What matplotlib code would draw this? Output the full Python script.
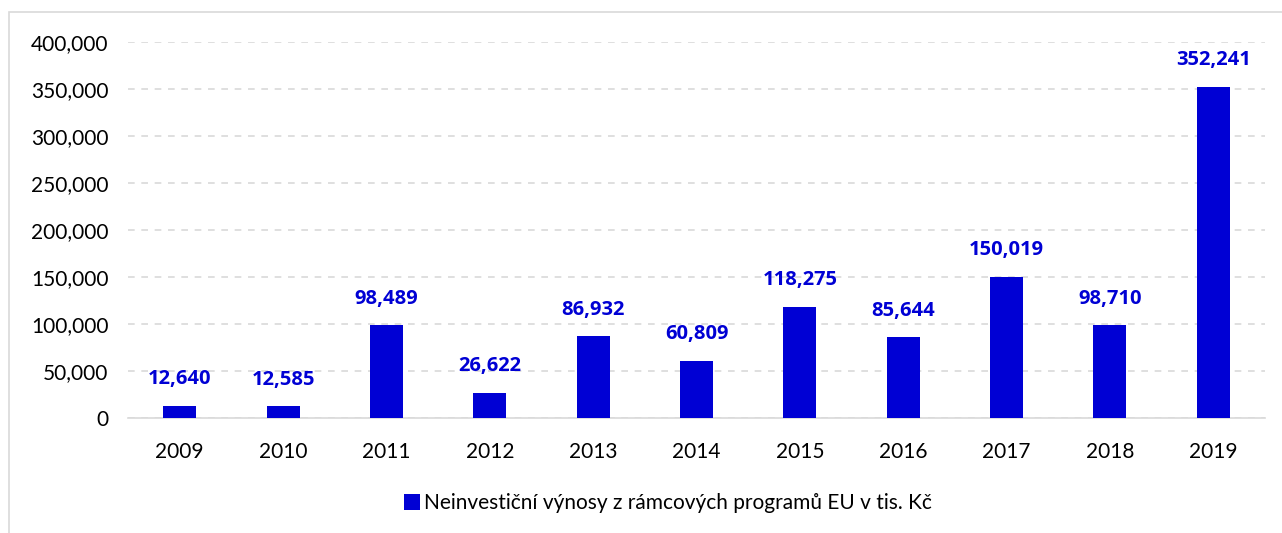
# Bar chart: non-investment income from EU framework programmes
import matplotlib
matplotlib.use("Agg")
import matplotlib.pyplot as plt
from matplotlib.patches import Rectangle
from matplotlib.ticker import FuncFormatter, MultipleLocator

plt.rcParams['font.family'] = ['Lato', 'DejaVu Sans']

# Data
years = ["2009", "2010", "2011", "2012", "2013", "2014", "2015", "2016", "2017", "2018", "2019"]
values = [12640, 12585, 98489, 26622, 86932, 60809, 118275, 85644, 150019, 98710, 352241]
series_name = "Neinvestiční výnosy z rámcových programů EU v tis. Kč"

bar_color = "#0000D4"

fig = plt.figure(figsize=(12.82, 5.33), dpi=100)
W, H = 1282, 533

# light frame around the chart area (cut at right/bottom like the original)
fig.patches.append(Rectangle((9 / W, -0.1), 1.0, 1.1 - 12 / H, transform=fig.transFigure,
                             fill=False, edgecolor="#D9D9D9", linewidth=1.2))

ax = fig.add_axes([128 / W, 1 - 418 / H, (1265 - 128) / W, (418 - 42) / H])

x = list(range(len(years)))
bars = ax.bar(x, values, width=0.32, color=bar_color, label=series_name, zorder=3)

# value labels above bars
for xi, v in zip(x, values):
    ax.annotate(f"{v:,}", (xi, v), xytext=(0, 12), textcoords="offset points",
                ha="center", va="bottom", fontsize=14.5, fontweight="bold", color=bar_color,
                family=["Open Sans", "DejaVu Sans"])

ax.set_xlim(-0.5, len(years) - 0.5)
ax.set_ylim(0, 400000)
ax.yaxis.set_major_locator(MultipleLocator(50000))
ax.yaxis.set_major_formatter(FuncFormatter(lambda v, p: f"{int(v):,}"))
ax.set_xticks(x)
ax.set_xticklabels(years)

ax.grid(axis="y", color="#D9D9D9", linestyle=(0, (4, 4)), linewidth=1.2, zorder=0)
for s in ["top", "right", "left"]:
    ax.spines[s].set_visible(False)
ax.spines["bottom"].set_color("#D9D9D9")
ax.spines["bottom"].set_linewidth(1.2)
ax.tick_params(axis="both", length=0, labelsize=15, colors="black")
ax.tick_params(axis="y", pad=14)
ax.tick_params(axis="x", pad=17)

fig.legend(handles=[bars], labels=[series_name], loc="center", bbox_to_anchor=(668 / W, 1 - 503 / H),
           frameon=False, fontsize=15, handlelength=0.8, handleheight=0.8, handletextpad=0.2)

fig.savefig("out.png", dpi=100, facecolor="white")
